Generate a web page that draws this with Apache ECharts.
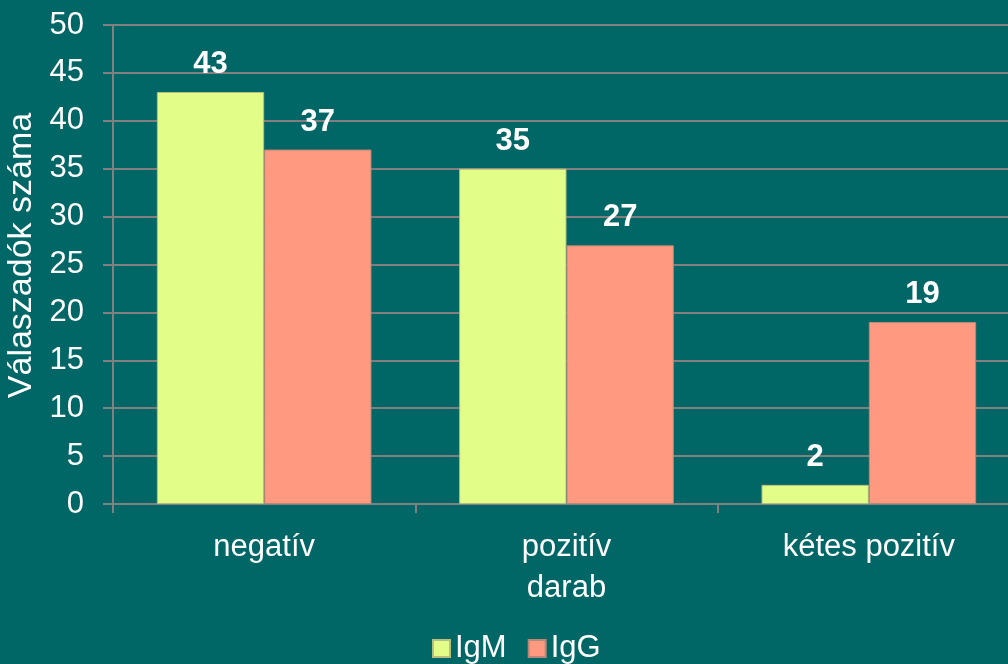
<!DOCTYPE html>
<html><head><meta charset="utf-8">
<script src="https://cdn.jsdelivr.net/npm/echarts@6/dist/echarts.min.js"></script>
<style>html,body{margin:0;padding:0;background:#006666;}#c{width:1008px;height:664px;}</style>
</head><body><div id="c"></div>
<script>
const categories = ['negatív', 'pozitív', 'kétes pozitív'];
const igM = [43, 35, 2];
const igG = [37, 27, 19];
const yTicks = { min: 0, max: 50, interval: 5 };
const font = '"Liberation Sans", Arial, sans-serif';
const chart = echarts.init(document.getElementById('c'));
chart.setOption({
  backgroundColor: '#006666',
  animation: false,
  textStyle: { fontFamily: font },
  grid: { left: 113, right: -12, top: 25, bottom: 160, outerBoundsMode: 'none', containLabel: false },
  legend: {
    top: 628, left: 427, itemWidth: 17, itemHeight: 17, itemGap: 21,
    icon: 'rect',
    textStyle: { color: '#fff', fontSize: 31, fontFamily: font },
    data: ['IgM', 'IgG']
  },
  xAxis: {
    type: 'category', data: categories,
    name: 'darab', nameLocation: 'middle', nameGap: 69,
    nameTextStyle: { color: '#fff', fontSize: 31, fontFamily: font },
    axisLine: { lineStyle: { color: '#808080', width: 2 } },
    axisTick: { show: true, length: 9, lineStyle: { color: '#808080', width: 2 } },
    axisLabel: { color: '#fff', fontSize: 31, margin: 28, fontFamily: font }
  },
  yAxis: {
    type: 'value', min: yTicks.min, max: yTicks.max, interval: yTicks.interval,
    name: 'Válaszadók száma', nameLocation: 'middle', nameGap: 73, nameRotate: 90,
    nameTextStyle: { color: '#fff', fontSize: 34, fontFamily: font, padding: [0, 0, 0, 18] },
    axisLine: { show: true, lineStyle: { color: '#808080', width: 2 } },
    axisTick: { show: true, length: 10, lineStyle: { color: '#808080', width: 2 } },
    axisLabel: { color: '#fff', fontSize: 31, margin: 29, fontFamily: font },
    splitLine: { lineStyle: { color: '#808080', width: 2 } }
  },
  series: [
    { name: 'IgM', type: 'bar', data: igM, barGap: '0%', barCategoryGap: '29%',
      itemStyle: { color: '#E2FE88', borderColor: '#b4bf80', borderWidth: 1 },
      label: { show: true, position: 'top', distance: 12, color: '#fff', fontSize: 31, fontWeight: 'bold', fontFamily: font } },
    { name: 'IgG', type: 'bar', data: igG, barGap: '0%', barCategoryGap: '29%',
      itemStyle: { color: '#FF9980', borderColor: '#b88878', borderWidth: 1 },
      label: { show: true, position: 'top', distance: 12, color: '#fff', fontSize: 31, fontWeight: 'bold', fontFamily: font } }
  ]
});
</script></body></html>
